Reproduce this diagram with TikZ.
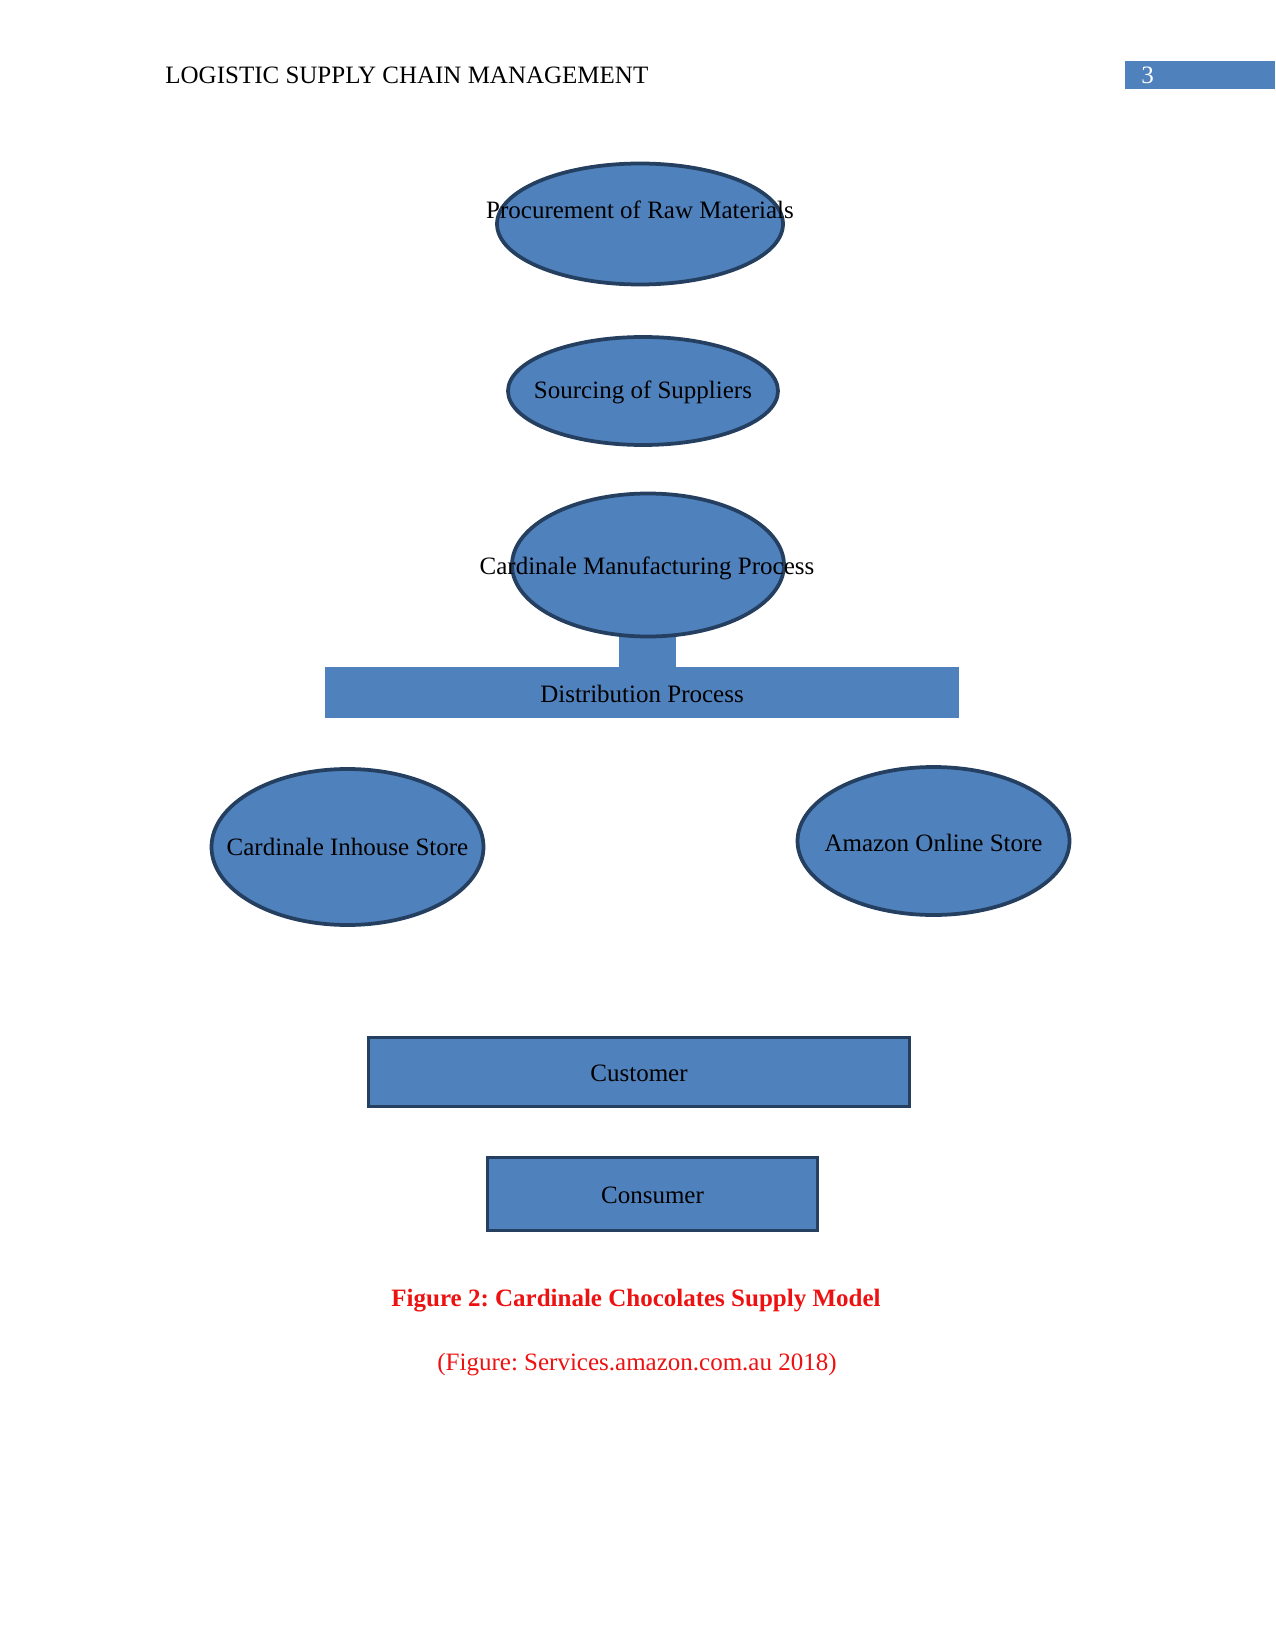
\documentclass[tikz,border=0pt]{standalone}
\usepackage{fontspec}
\setmainfont{Liberation Serif}
\usetikzlibrary{shapes.geometric,calc}
\definecolor{boxblue}{HTML}{4F81BD}
\definecolor{edgeblue}{HTML}{243F60}
\definecolor{capred}{HTML}{EE1111}
\frenchspacing
\begin{document}
\begin{tikzpicture}[x=0.48pt,y=-0.48pt,
  oval/.style={ellipse,draw=edgeblue,line width=1.8pt,fill=boxblue,inner sep=0pt},
  plainbox/.style={rectangle,draw=edgeblue,line width=1.8pt,fill=boxblue,inner sep=0pt},
  flatbox/.style={rectangle,fill=boxblue,inner sep=0pt},
  lbl/.style={font=\fontsize{12}{14}\selectfont,text=black,inner sep=0pt}]
\useasboundingbox (0,0) rectangle (1275,1650);
% header
\node[lbl,anchor=west] (hdr) at (165,75) {LOGISTIC SUPPLY CHAIN MANAGEMENT};
\node[flatbox,minimum width=150*0.48pt,minimum height=28*0.48pt,anchor=north west] (pg) at (1125,61) {};
\node[lbl,text=white,anchor=west] (pgn) at (1141,75) {3};
% ellipses
\node[oval,minimum width=286*0.48pt,minimum height=121*0.48pt] (proc) at (640,224) {};
\node[lbl] (proct) at (640,210) {Procurement of Raw Materials};
\node[oval,minimum width=270*0.48pt,minimum height=108*0.48pt] (src) at (643,391) {};
\node[lbl] (srct) at (643,392) {Sourcing of Suppliers};
% stub and distribution
\node[flatbox,minimum width=57*0.48pt,minimum height=45*0.48pt,anchor=north] (stub) at (647.5,624) {};
\node[oval,minimum width=272*0.48pt,minimum height=143*0.48pt] (manu) at (648,565) {};
\node[lbl] (manut) at (647,568) {Cardinale Manufacturing Process};
\node[flatbox,minimum width=634*0.48pt,minimum height=51*0.48pt] (dist) at (642,692.5) {};
\node[lbl] (distt) at (642,694) {Distribution Process};
% stores
\node[oval,minimum width=272*0.48pt,minimum height=156*0.48pt] (inh) at (347.5,847) {};
\node[lbl] (inht) at (347.5,847) {Cardinale Inhouse Store};
\node[oval,minimum width=272*0.48pt,minimum height=148*0.48pt] (amz) at (933.5,841) {};
\node[lbl] (amzt) at (933.5,843) {Amazon Online Store};
% boxes
\node[plainbox,minimum width=541*0.48pt,minimum height=69*0.48pt] (cust) at (639,1072) {};
\node[lbl] (custt) at (639,1073) {Customer};
\node[plainbox,minimum width=330*0.48pt,minimum height=73*0.48pt] (cons) at (652.5,1194) {};
\node[lbl] (const) at (652.5,1195) {Consumer};
% captions
\node[lbl,text=capred,font=\fontsize{12}{14}\selectfont\bfseries] (cap1) at (636,1301) {Figure 2: Cardinale Chocolates Supply Model};
\node[lbl,text=capred] (cap2) at (637,1365) {(Figure: Services.amazon.com.au 2018)};
\end{tikzpicture}
\end{document}
